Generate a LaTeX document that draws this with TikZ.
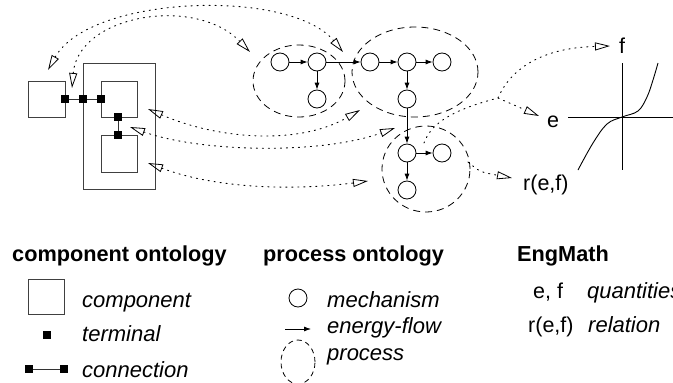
\documentclass[tikz,border=0pt]{standalone}
\usepackage{fontspec}
\setmainfont{Liberation Sans}
\usetikzlibrary{arrows.meta,shapes.geometric}
\tikzset{
  mech/.style={circle, draw, line width=0.8pt, minimum size=18pt, inner sep=0pt},
  term/.style={rectangle, fill=black, minimum size=8pt, inner sep=0pt},
  comp/.style={rectangle, draw=black!75, line width=0.9pt, inner sep=0pt},
  proc/.style={ellipse, draw, line width=0.8pt, dash pattern=on 7pt off 5pt, inner sep=0pt},
  flow/.style={-{Latex[length=7pt,width=5pt]}, line width=0.8pt},
  conn/.style={line width=0.9pt, draw=black!80},
  link/.style={line width=0.9pt, dash pattern=on 1.2pt off 4.8pt, line cap=round},
  otip/.tip={Triangle[open,length=15pt,width=8pt,line width=0.8pt]},
  regtxt/.style={inner sep=0pt, anchor=base west, font=\fontsize{21.5pt}{25pt}\selectfont},
  ittxt/.style={inner sep=0pt, anchor=base west, font=\fontsize{22pt}{25pt}\selectfont\itshape},
  hdtxt/.style={inner sep=0pt, anchor=base west, font=\fontsize{21.7pt}{25pt}\selectfont\bfseries},
}
\begin{document}
\begin{tikzpicture}[x=1pt,y=-1pt]
\useasboundingbox (0,0) rectangle (673,383);

% ---------- components ----------
\node[comp, minimum width=37pt, minimum height=36pt] (lbox) at (46.5,99) {};
\node[comp, minimum width=72pt, minimum height=126pt] (bbox) at (119,126) {};
\node[comp, minimum width=36pt, minimum height=36pt] (ibox1) at (119,99) {};
\node[comp, minimum width=36pt, minimum height=37pt] (ibox2) at (119,153.5) {};
\node[term] (t1) at (65,99) {};
\node[term] (t2) at (83,99) {};
\node[term] (t3) at (101,99) {};
\node[term] (t4) at (118,117) {};
\node[term] (t5) at (118,135) {};
\draw[conn] (t1) -- (t2);
\draw[conn] (t2) -- (t3);
\draw[conn] (t4) -- (t5);

% ---------- processes ----------
\node[proc, minimum width=92pt, minimum height=72pt] (P1) at (299,81) {};
\node[proc, minimum width=126pt, minimum height=90pt] (P2) at (415,72) {};
\node[proc, minimum width=88pt, minimum height=86pt] (P3) at (426,169) {};

\node[mech] (p1a) at (280,62) {};
\node[mech] (p1b) at (317,62) {};
\node[mech] (p1c) at (317,99) {};
\node[mech] (p2a) at (370,62) {};
\node[mech] (p2b) at (407,62) {};
\node[mech] (p2c) at (442,62) {};
\node[mech] (p2d) at (407,99) {};
\node[mech] (p3a) at (407,153) {};
\node[mech] (p3b) at (442,153) {};
\node[mech] (p3c) at (407,190) {};

\draw[flow] (p1a) -- (p1b);
\draw[flow] (p1b) -- (p1c);
\draw[flow] (p1b) -- (p2a);
\draw[flow] (p2a) -- (p2b);
\draw[flow] (p2b) -- (p2c);
\draw[flow] (p2b) -- (p2d);
\draw[flow] (p2d) -- (p3a);
\draw[flow] (p3a) -- (p3b);
\draw[flow] (p3a) -- (p3c);

% ---------- EngMath graph ----------
\node[regtxt] (lf) at (619,53) {f};
\node[regtxt] (le) at (547,127) {e};
\node[regtxt] (lr) at (523,190) {r(e,f)};
\coordinate (ax1) at (622,63);
\coordinate (ax2) at (622,170);
\coordinate (ay1) at (568,117);
\coordinate (ay2) at (673,117);
\draw[line width=0.9pt] (ax1) -- (ax2);
\draw[line width=0.9pt] (ay1) -- (ay2);
\draw[line width=0.9pt] plot[smooth, tension=0.6] coordinates {(578,170) (593,143) (607,124) (622,117) (638,111) (647,97) (653,80) (658,63)};

% ---------- link endpoints ----------
\coordinate (aL1) at (48,70);
\coordinate (aE12) at (343,52);
\coordinate (aC1) at (72,88);
\coordinate (aP1) at (250,52);
\coordinate (aI1) at (148,109);
\coordinate (aP2) at (360,110);
\coordinate (aC2) at (130,127);
\coordinate (aE23) at (395,128);
\coordinate (aI2) at (148,163);
\coordinate (aP3) at (368,181);
\coordinate (sM) at (424,143);
\coordinate (br) at (498,98);
\coordinate (aF) at (610,46);
\coordinate (aE) at (539,116);
\coordinate (sP3) at (468,162);
\coordinate (aR) at (512,178);

\draw[link, {otip}-{otip}] (aL1) .. controls (90,-5) and (290,-12) .. (aE12);
\draw[link, {otip}-{otip}] (aC1) .. controls (78,15) and (195,-5) .. (aP1);
\draw[link, {otip}-{otip}] (aI1) .. controls (220,140) and (300,145) .. (aP2);
\draw[link, {otip}-{otip}] (aC2) .. controls (200,152) and (320,155) .. (aE23);
\draw[link, {otip}-{otip}] (aI2) .. controls (220,190) and (300,190) .. (aP3);
\draw[link] (sM) .. controls (432,120) and (460,108) .. (br);
\draw[link, -{otip}] (br) .. controls (510,70) and (540,48) .. (aF);
\draw[link, -{otip}] (br) -- (aE);
\draw[link, -{otip}] (sP3) .. controls (480,172) .. (aR);

% ---------- legend ----------
\node[hdtxt] (h1) at (12,261) {component ontology};
\node[hdtxt] (h2) at (263,261) {process ontology};
\node[hdtxt] (h3) at (517,261) {EngMath};

\node[comp, minimum width=36pt, minimum height=35pt] (lgbox) at (46,296.5) {};
\node[ittxt] (lgcomp) at (82,307) {component};
\node[term] (lgterm) at (47,334.5) {};
\node[ittxt] (lgterml) at (82,341) {terminal};
\node[term] (lgc1) at (28.5,369) {};
\node[term] (lgc2) at (64,369) {};
\draw[conn] (lgc1) -- (lgc2);
\node[ittxt] (lgconn) at (82,377) {connection};

\node[mech] (lgmech) at (298,298) {};
\node[ittxt] (lgmechl) at (327,307) {mechanism};
\coordinate (lgf1) at (285,329);
\coordinate (lgf2) at (311,329);
\draw[flow] (lgf1) -- (lgf2);
\node[ittxt] (lgflow) at (327,333) {energy-flow};
\node[proc, minimum width=34pt, minimum height=44pt, dash pattern=on 5pt off 4pt] (lgproc) at (298,362) {};
\node[ittxt] (lgprocl) at (327,360) {process};

\node[regtxt] (lgef) at (533,298) {e, f};
\node[ittxt] (lgq) at (587,298) {quantities};
\node[regtxt] (lgr) at (528,332) {r(e,f)};
\node[ittxt] (lgrel) at (588,332) {relation};
\end{tikzpicture}
\end{document}
